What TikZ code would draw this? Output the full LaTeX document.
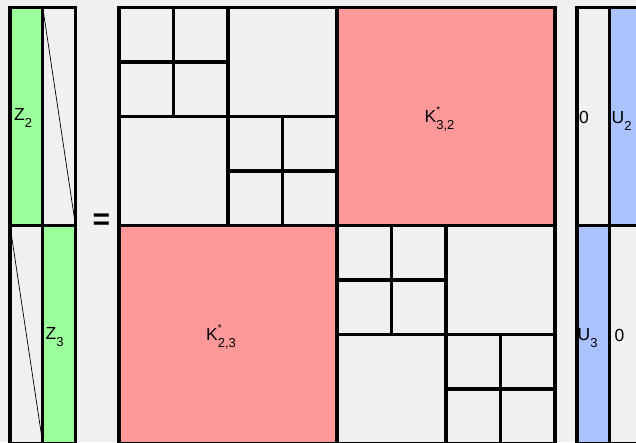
\documentclass[tikz,border=0pt]{standalone}
\usepackage{fontspec}
\setmainfont{Liberation Sans}
\usepackage{tikz}
\definecolor{PanelGray}{RGB}{240,240,240}
\definecolor{BlockGreen}{RGB}{155,255,155}
\definecolor{BlockRed}{RGB}{255,153,153}
\definecolor{BlockBlue}{RGB}{170,195,255}
\newcommand{\lsub}[1]{\raisebox{-0.42em}{\fontsize{13}{13}\selectfont #1}}
\newcommand{\lstar}{\rlap{\raisebox{0.5em}{\fontsize{10}{10}\selectfont *}}}

\begin{document}
\begin{tikzpicture}[x=1pt, y=-1pt,
    blk/.style={draw=black, line width=3.2pt, fill=PanelGray},
    diag/.style={draw=black, line width=0.7pt},
    lbl/.style={anchor=base west, inner sep=0pt, font=\fontsize{17.5}{20}\selectfont}
  ]
    % Canvas
    \useasboundingbox (0,0) rectangle (636,442);
    \fill[PanelGray] (0,0) rectangle (636,442);
    \clip (0,0) rectangle (636,442);

    % Left factor Z
    \draw[blk, fill=BlockGreen] (10,7.5) rectangle (42.75,225.5);
    \draw[blk] (42.75,7.5) rectangle (75.5,225.5);
    \draw[blk] (10,225.5) rectangle (42.75,443.5);
    \draw[blk, fill=BlockGreen] (42.75,225.5) rectangle (75.5,443.5);
    \draw[diag] (42.75,7.5) -- (75.5,225.5);
    \draw[diag] (10,225.5) -- (42.75,443.5);
    \node[lbl] (z2) at (14,120.5) {Z\lsub{2}};
    \node[lbl] (z3) at (45.5,339.5) {Z\lsub{3}};

    \node[inner sep=0pt, font=\fontsize{30}{30}\selectfont\bfseries] (eq) at (101.5,221.5) {=};

    % Middle matrix, top-left quadrant
    \draw[blk] (119,7.5) rectangle (228,116.5);
    \draw[blk] (173.5,7.5) -- (173.5,116.5) (119,62) -- (228,62);
    \draw[blk] (228,7.5) rectangle (337,116.5);
    \draw[blk] (119,116.5) rectangle (228,225.5);
    \draw[blk] (228,116.5) rectangle (337,225.5);
    \draw[blk] (282.5,116.5) -- (282.5,225.5) (228,171) -- (337,171);

    % Off-diagonal blocks
    \draw[blk, fill=BlockRed] (337,7.5) rectangle (555,225.5);
    \draw[blk, fill=BlockRed] (119,225.5) rectangle (337,443.5);
    \node[lbl] (k32) at (424.5,122.5) {K\lstar\lsub{3,2}};
    \node[lbl] (k23) at (206,340) {K\lstar\lsub{2,3}};

    % Middle matrix, bottom-right quadrant
    \draw[blk] (337,225.5) rectangle (446,334.5);
    \draw[blk] (391.5,225.5) -- (391.5,334.5) (337,280) -- (446,280);
    \draw[blk] (446,225.5) rectangle (555,334.5);
    \draw[blk] (337,334.5) rectangle (446,443.5);
    \draw[blk] (446,334.5) rectangle (555,443.5);
    \draw[blk] (500.5,334.5) -- (500.5,443.5) (446,389) -- (555,389);

    % Right factor U
    \draw[blk] (577,7.5) rectangle (609.75,225.5);
    \draw[blk, fill=BlockBlue] (609.75,7.5) rectangle (642.5,225.5);
    \draw[blk, fill=BlockBlue] (577,225.5) rectangle (609.75,443.5);
    \draw[blk] (609.75,225.5) rectangle (642.5,443.5);
    \node[lbl] (zr2) at (579,123) {0};
    \node[lbl] (u2) at (611.5,123) {U\lsub{2}};
    \node[lbl] (u3) at (577.5,340) {U\lsub{3}};
    \node[lbl] (zr3) at (614.5,341) {0};
  \end{tikzpicture}
\end{document}
